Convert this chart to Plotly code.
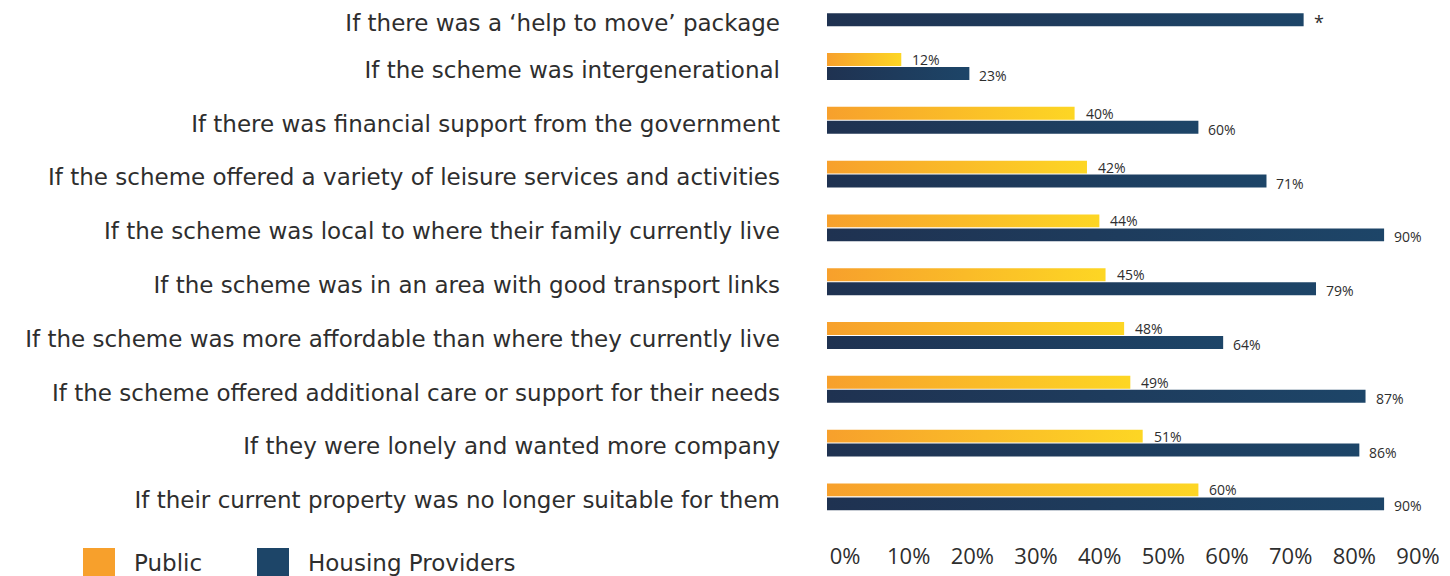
import plotly.graph_objects as go

categories = [
    "If there was a ‘help to move’ package",
    "If the scheme was intergenerational",
    "If there was financial support from the government",
    "If the scheme offered a variety of leisure services and activities",
    "If the scheme was local to where their family currently live",
    "If the scheme was in an area with good transport links",
    "If the scheme was more affordable than where they currently live",
    "If the scheme offered additional care or support for their needs",
    "If they were lonely and wanted more company",
    "If their current property was no longer suitable for them",
]
public = [None, 12, 40, 42, 44, 45, 48, 49, 51, 60]
providers = [77, 23, 60, 71, 90, 79, 64, 87, 86, 90]
provider_text = ["*", "23%", "60%", "71%", "90%", "79%", "64%", "87%", "86%", "90%"]
series_names = ["Public", "Housing Providers"]
tick_values = [0, 10, 20, 30, 40, 50, 60, 70, 80, 90]

ORANGE = ["#F7A02C", "#FDD624"]
NAVY = ["#1F3251", "#1D4568"]
TEXT = "#2E2E2E"
FONT = "Open Sans"
LABEL_FONT = "DejaVu Sans"

# the page body adds an 8px margin, so the figure is drawn 8px smaller
LEFT = 819

fig = go.Figure()


def add_bar(value, y0, y1, colors):
    fig.add_trace(
        go.Scatter(
            x=[0, value, value, 0, 0],
            y=[y0, y0, y1, y1, y0],
            mode="lines",
            line=dict(width=0),
            fill="toself",
            fillgradient=dict(type="horizontal", colorscale=[[0, colors[0]], [1, colors[1]]]),
            hoverinfo="skip",
            showlegend=False,
        )
    )


label_pos = []
for i, (p, h) in enumerate(zip(public, providers)):
    if p is not None:
        add_bar(p, i - 0.25, i - 0.01, ORANGE)
        fig.add_annotation(
            x=p, y=i - 0.13, text=f"{p}%", showarrow=False, xanchor="left",
            xshift=9, font=dict(size=14, color=TEXT, family=FONT),
        )
        label_pos.append(i + 0.06)
    else:
        label_pos.append(i + 0.19)
    add_bar(h, i + 0.01, i + 0.25, NAVY)
    star = provider_text[i] == "*"
    fig.add_annotation(
        x=h, y=i + 0.13, text=provider_text[i], showarrow=False, xanchor="left",
        xshift=8, yshift=-2,
        font=dict(size=18 if star else 14, color=TEXT, family=FONT),
    )

# second x axis only carries the percentage tick labels
fig.add_trace(
    go.Scatter(x=[0], y=[0], xaxis="x2", mode="markers", marker=dict(opacity=0),
               hoverinfo="skip", showlegend=False)
)

# legend drawn by hand, big squares at the bottom left
legend_x = [75, 249]
legend_text_x = [124, 298]
for name, colors, bx, tx in zip(series_names, [ORANGE, NAVY], legend_x, legend_text_x):
    fig.add_shape(
        type="rect", xref="paper", yref="paper", xsizemode="pixel", ysizemode="pixel",
        xanchor=0, yanchor=0, x0=bx - LEFT, x1=bx - LEFT + 32, y0=-40, y1=-7,
        fillcolor=colors[0] if name == "Public" else colors[1], line=dict(width=0),
    )
    fig.add_annotation(
        x=0, y=0, xref="paper", yref="paper", text=name, showarrow=False,
        xanchor="left", yanchor="middle", xshift=tx - LEFT, yshift=-22,
        font=dict(size=23, color=TEXT, family=LABEL_FONT),
    )

fig.update_layout(
    width=1442,
    height=568,
    margin=dict(l=LEFT, r=10, t=0, b=35),
    plot_bgcolor="white",
    paper_bgcolor="white",
    font=dict(family=FONT, color=TEXT),
    showlegend=False,
    xaxis=dict(range=[0, 99.03], showgrid=False, zeroline=False, showticklabels=False,
               fixedrange=True),
    xaxis2=dict(overlaying="x", anchor="y", side="bottom", range=[-2.83, 93.45],
                tickvals=tick_values, ticktext=[f"{v}%" for v in tick_values],
                showgrid=False, zeroline=False, ticks="",
                tickfont=dict(size=22, color=TEXT, family=FONT)),
    yaxis=dict(range=[9.82, -0.087], tickvals=label_pos,
               ticktext=categories, showgrid=False, zeroline=False, ticks="",
               ticklabelstandoff=46, tickfont=dict(size=23, color=TEXT, family=LABEL_FONT)),
)

fig.write_html("out.html")
